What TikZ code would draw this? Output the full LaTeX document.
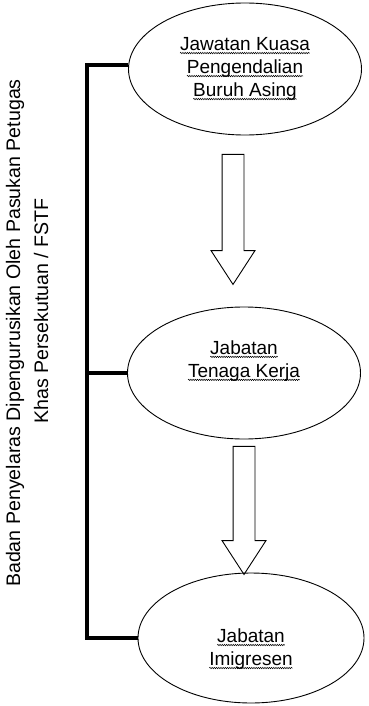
\documentclass[tikz,border=0pt]{standalone}
\usepackage{fontspec}
\setmainfont{Liberation Sans}
\usetikzlibrary{positioning, shapes.geometric, shapes.arrows, decorations.pathmorphing}

% wavy proofing underline
\newcommand{\wavyline}[1]{\tikz[baseline=(w.base)]{\node[shape=rectangle, draw=none, minimum width=0pt, minimum height=0pt, inner sep=0pt, outer sep=0pt] (w) {#1};
  \draw[line width=0.5pt, decorate, decoration={snake, amplitude=0.7pt, segment length=2.2pt}] ([yshift=-2.5pt]w.base west) -- ([yshift=-2.5pt]w.base east);}}

\begin{document}
\begin{tikzpicture}[
    x=1pt, y=-1pt,
    unit/.style={ellipse, draw, line width=0.9pt, minimum width=233pt, minimum height=132pt, inner sep=0pt, align=center, font=\fontsize{19}{23}\selectfont},
    flow/.style={single arrow, draw, line width=0.9pt, shape border rotate=270, single arrow head extend=11pt, single arrow tip angle=66, inner sep=10.5pt},
    bar/.style={line width=4.5pt},
    side/.style={rotate=90, inner sep=0pt, font=\fontsize{19.6}{22}\selectfont}
]
\useasboundingbox (0,0) rectangle (368,706);

% Units
\node[unit] (jkpba) at (245,69) {\wavyline{Jawatan Kuasa}\\ \wavyline{Pengendalian}\\ \wavyline{Buruh Asing}};
\node[unit] (jtk) at (244,373) {\wavyline{Jabatan}\\ \wavyline{Tenaga Kerja}\rule[-28pt]{0pt}{0pt}};
\node[unit, minimum width=226pt, minimum height=130pt] (jim) at (251,638) {\rule{0pt}{36pt}\wavyline{Jabatan}\\ \wavyline{Imigresen}};

% Flow arrows
\node[flow, minimum height=130pt] (f1) at (233,211) {};
\node[flow, minimum height=128pt] (f2) at (244,502) {};

% Coordinating body
\draw[bar] ([yshift=4pt]jkpba.west) -- ++(-41,0) coordinate (bartop) |- (jim.west);
\draw[bar] (jtk.west) -- (jtk.west -| bartop);

% Side label
\node[side] (lab1) at (15,333) {Badan Penyelaras Dipengurusikan Oleh Pasukan Petugas};
\node[side] (lab2) at (41,311) {Khas Persekutuan / FSTF};

\end{tikzpicture}
\end{document}
